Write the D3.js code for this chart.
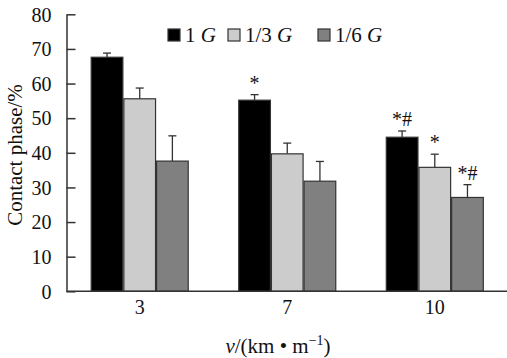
<!DOCTYPE html>
<html><head><meta charset="utf-8">
<script src="https://cdn.jsdelivr.net/npm/d3@7"></script>
<style>body{margin:0;background:#fff}svg{display:block}text{font-family:"Liberation Serif","Times New Roman",serif;fill:#111}</style>
</head><body><svg id="c" width="507" height="358"></svg>
<script>
const categories = ["3","7","10"];
const series = ["1 G","1/3 G","1/6 G"];
const values1G = [67.6, 55.2, 44.5];
const values13G = [55.6, 39.7, 35.8];
const values16G = [37.6, 31.8, 27.1];
const err1G = [1.2, 1.6, 1.8];
const err13G = [3.1, 3.1, 3.8];
const err16G = [7.3, 5.7, 3.7];
const marks1G = ["", "*", "*#"];
const marks13G = ["", "", "*"];
const marks16G = ["", "", "*#"];
const yTicks = [0,10,20,30,40,50,60,70,80];
const colors = ["#000000","#cccccc","#808080"];

const svg = d3.select("#c");
const x = d3.scaleBand().domain(categories).range([66.5, 508]).paddingInner(0.3356).paddingOuter(0.164);
const x1 = d3.scaleBand().domain(series).range([0, x.bandwidth()]);
const y = d3.scaleLinear().domain([0,80]).range([291.3, 14.3]);
const color = d3.scaleOrdinal().domain(series).range(colors);

const vals = [values1G, values13G, values16G];
const errs = [err1G, err13G, err16G];
const marks = [marks1G, marks13G, marks16G];
const data = [];
categories.forEach((c,i)=>series.forEach((s,j)=>data.push({c,s,v:vals[j][i],e:errs[j][i],m:marks[j][i]})));

const g = svg.append("g");
g.selectAll(".err").data(data).join("g").attr("class","err").each(function(d){
  const cx = x(d.c)+x1(d.s)+x1.bandwidth()/2;
  const sel = d3.select(this);
  sel.append("line").attr("x1",cx).attr("x2",cx).attr("y1",y(d.v)).attr("y2",y(d.v+d.e)).attr("stroke","#333").attr("stroke-width",1.3);
  sel.append("line").attr("x1",cx-4).attr("x2",cx+4).attr("y1",y(d.v+d.e)).attr("y2",y(d.v+d.e)).attr("stroke","#333").attr("stroke-width",1.3);
});
g.selectAll("rect.bar").data(data).join("rect").attr("class","bar")
  .attr("x",d=>x(d.c)+x1(d.s)+0.5).attr("width",x1.bandwidth()-1)
  .attr("y",d=>y(d.v)).attr("height",d=>y(0)-y(d.v))
  .attr("fill",d=>color(d.s)).attr("stroke","#333").attr("stroke-width",1.2);
g.selectAll("text.mk").data(data.filter(d=>d.m)).join("text").attr("class","mk")
  .attr("x",d=>x(d.c)+x1(d.s)+x1.bandwidth()/2).attr("y",d=>y(d.v+d.e)-5)
  .attr("text-anchor","middle").attr("font-size",20).text(d=>d.m);

const yAxis = d3.axisLeft(y).tickValues(yTicks).tickSizeInner(-9).tickSizeOuter(0).tickPadding(15);
const ya = svg.append("g").attr("transform","translate(66.5,0)").call(yAxis);
ya.select(".domain").attr("stroke","#333").attr("stroke-width",1.5);
ya.selectAll(".tick line").attr("stroke","#333").attr("stroke-width",1.5);
ya.selectAll(".tick text").attr("font-size",20).attr("font-family","Liberation Serif").attr("fill","#111").attr("dy","0.34em");

const xAxis = d3.axisBottom(x).tickSize(0).tickPadding(9);
const xa = svg.append("g").attr("transform","translate(0,291.3)").call(xAxis);
xa.select(".domain").attr("stroke","#333").attr("stroke-width",1.5).attr("d","M66.5,0H507");
xa.selectAll(".tick text").attr("font-size",20).attr("font-family","Liberation Serif").attr("fill","#111");

svg.append("text").attr("transform","translate(22,155) rotate(-90)").attr("text-anchor","middle").attr("font-size",21).text("Contact phase/%");
const xt = svg.append("text").attr("x",278).attr("y",353).attr("text-anchor","middle").attr("font-size",21);
xt.append("tspan").attr("font-style","italic").text("v");
xt.append("tspan").text("/(km • m");
xt.append("tspan").attr("font-size",14).attr("dy",-8).text("−1");
xt.append("tspan").attr("dy",8).text(")");

const legX = [168, 228, 318];
const lg = svg.append("g").selectAll("g").data(series).join("g").attr("transform",(d,i)=>`translate(${legX[i]},29)`);
lg.append("rect").attr("width",12).attr("height",12).attr("fill",d=>color(d)).attr("stroke","#333").attr("stroke-width",1.2);
lg.each(function(d){
  const parts = d.split(" ");
  const t = d3.select(this).append("text").attr("x",17).attr("y",13).attr("font-size",21);
  t.append("tspan").text(parts[0]+" ");
  t.append("tspan").attr("font-style","italic").text(parts[1]);
});
</script></body></html>
